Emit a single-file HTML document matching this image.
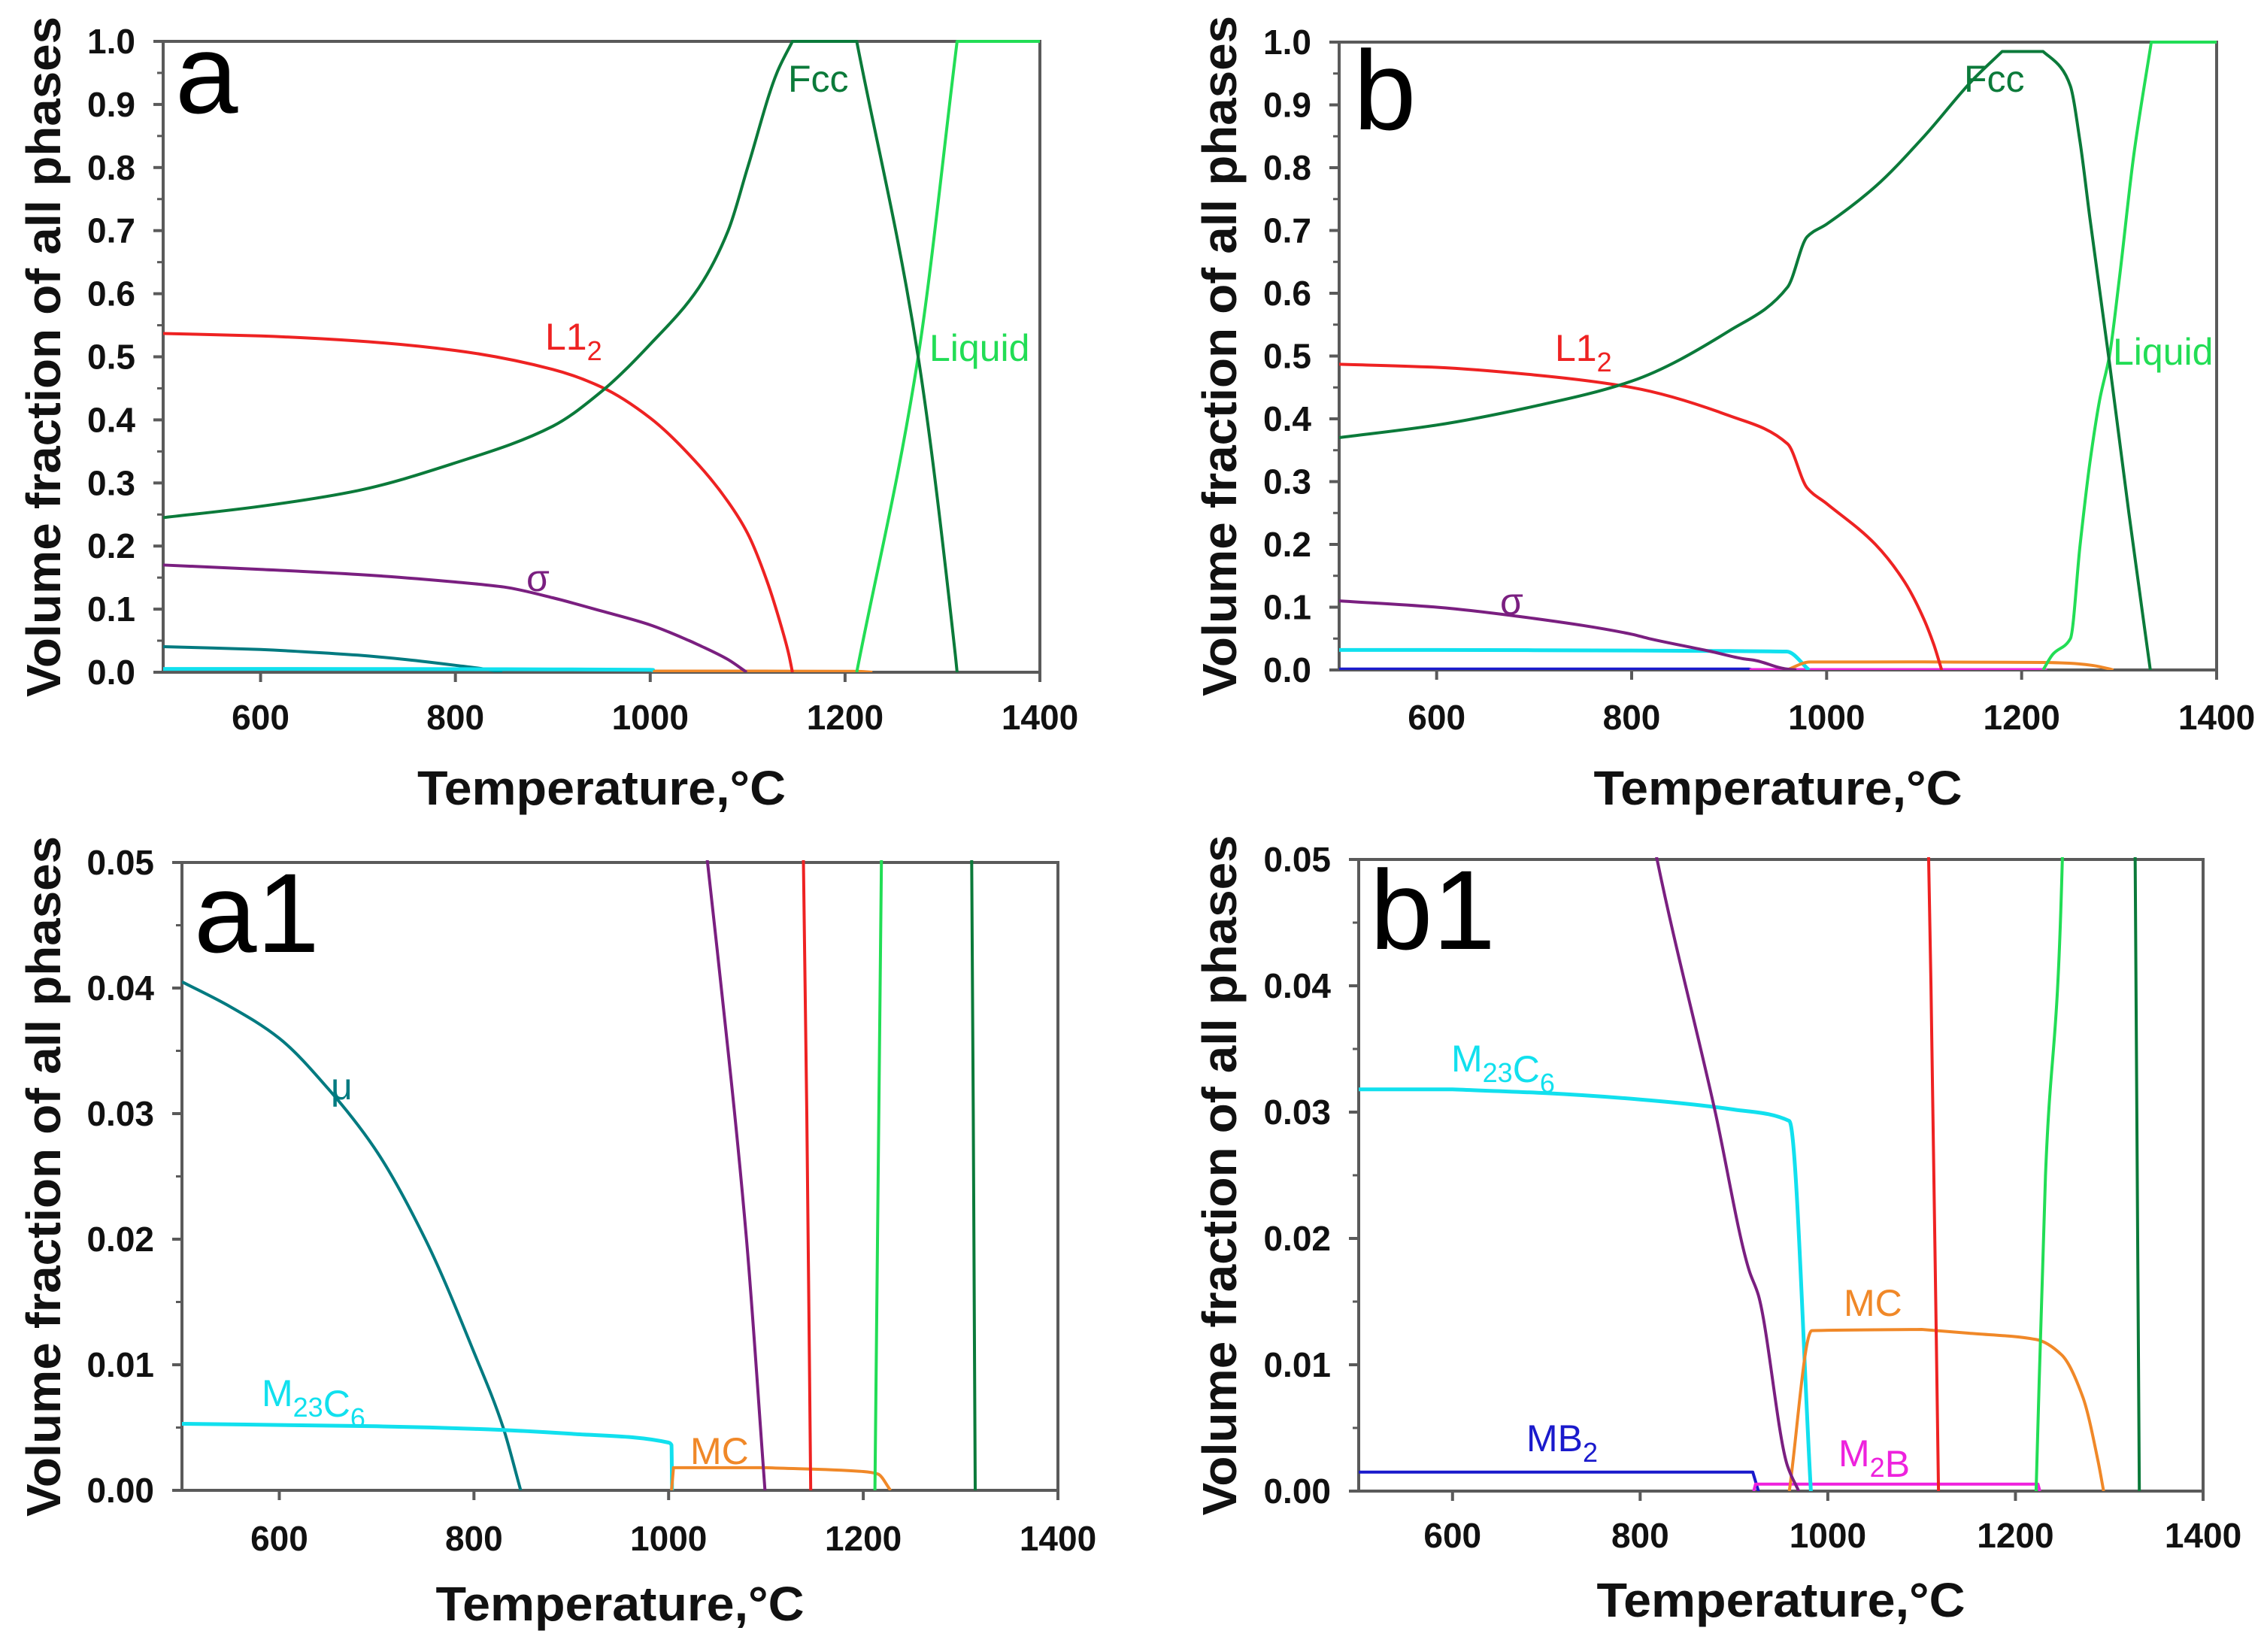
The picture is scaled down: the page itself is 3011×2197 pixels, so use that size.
<!DOCTYPE html>
<html><head><meta charset="utf-8"><style>
html,body{margin:0;padding:0;background:#fff}
svg{display:block}
text{font-family:"Liberation Sans",Arial,sans-serif}
.tk{font-family:"Liberation Sans Narrow","Liberation Sans",sans-serif;font-weight:bold;font-size:46px;fill:#111}
.ttl{font-weight:bold;font-size:64px;fill:#111}
.lbl{font-size:50px}
.pl{font-size:150px;fill:#000}
</style></head><body>
<svg id="fig" width="3011" height="2197" viewBox="0 0 3011 2197" xmlns="http://www.w3.org/2000/svg"></svg>
<script>
// ---- Panel a data ----
const aFccT = [500,600,700,800,900,950,1000,1050,1080,1100,1130,1146,1212,1275,1313,1315];
const aFccV = [0.245,0.263,0.288,0.332,0.39,0.445,0.52,0.61,0.7,0.8,0.95,1.0,1.0,0.5,0.03,0.0];
const aL12T = [500,600,700,800,900,950,1000,1050,1080,1100,1120,1135,1142,1146];
const aL12V = [0.537,0.533,0.525,0.51,0.48,0.452,0.403,0.328,0.27,0.22,0.144,0.07,0.03,0];
const aLiqT = [1212,1275,1315,1400];
const aLiqV = [0,0.5,1.0,1.0];
const aSigT = [500,600,700,800,850,900,950,1000,1040,1050,1080,1099];
const aSigV = [0.17,0.163,0.155,0.143,0.135,0.118,0.097,0.075,0.05,0.043,0.02,0];
const aMuT = [500,550,600,650,700,750,800,830,848];
const aMuV = [0.0405,0.0385,0.036,0.032,0.027,0.020,0.011,0.005,0];
const aM23T = [500,700,800,900,1000,1003,1003.5];
const aM23V = [0.0053,0.0051,0.0049,0.0045,0.0038,0.0036,0];
const aMCT = [1003,1005,1100,1200,1215,1228];
const aMCV = [0,0.0018,0.0018,0.0015,0.0013,0];
// ---- Panel b data ----
const bFccT = [500,600,700,800,900,960,980,1000,1050,1100,1150,1180,1222,1240,1250,1260,1270,1290,1310,1332];
const bFccV = [0.37,0.39,0.42,0.46,0.54,0.61,0.69,0.71,0.77,0.85,0.94,0.985,0.985,0.96,0.93,0.84,0.72,0.49,0.25,0];
const bL12T = [500,600,700,800,900,960,980,1000,1050,1080,1100,1110,1118];
const bL12V = [0.487,0.482,0.47,0.45,0.405,0.36,0.29,0.265,0.2,0.14,0.08,0.04,0];
const bLiqT = [1222,1232,1250,1260,1270,1280,1290,1300,1315,1333,1400];
const bLiqV = [0,0.025,0.05,0.2,0.33,0.43,0.5,0.62,0.82,1.0,1.0];
const bSigT = [500,600,700,800,818,880,916,926,957,969];
const bSigV = [0.11,0.1,0.082,0.057,0.05,0.03,0.0175,0.0155,0.002,0];
const bM23T = [500,600,700,800,900,959,982];
const bM23V = [0.0318,0.0318,0.0315,0.031,0.0302,0.0293,0];
const bMCT = [959,983,1100,1150,1222,1249,1272,1288,1294];
const bMCV = [0,0.0127,0.0128,0.0125,0.012,0.0108,0.0074,0.0024,0];
const bM2BT = [921,923,1224,1226];
const bM2BV = [0,0.00055,0.00055,0];
const bMB2T = [500,920,926];
const bMB2V = [0.0015,0.0015,0];

const yTicksMain = [0,0.1,0.2,0.3,0.4,0.5,0.6,0.7,0.8,0.9,1.0];
const yTickLabMain = ["0.0","0.1","0.2","0.3","0.4","0.5","0.6","0.7","0.8","0.9","1.0"];
const yTicksZoom = [0,0.01,0.02,0.03,0.04,0.05];
const yTickLabZoom = ["0.00","0.01","0.02","0.03","0.04","0.05"];
const xTicks = [600,800,1000,1200,1400];

const C = {fcc:"#0b7a3a", l12:"#ee2222", liq:"#22dd55", sig:"#7a1f80", mu:"#007a80", m23:"#11e0ee", mc:"#f08828", m2b:"#ee22dd", mb2:"#1a1acc"};
const svg = document.getElementById('fig');
const NS = "http://www.w3.org/2000/svg";
function mk(tag, attrs, parent){const e=document.createElementNS(NS,tag);for(const k in attrs)e.setAttribute(k,attrs[k]);(parent||svg).appendChild(e);return e;}

// monotone cubic path with sharp corners where slope changes sign
function monoPath(px, py){
  const n=px.length; if(n<3){let d='';for(let i=0;i<n;i++)d+=(i?'L':'M')+px[i].toFixed(1)+','+py[i].toFixed(1);return d;}
  const dx=[],s=[];
  for(let i=0;i<n-1;i++){dx.push(px[i+1]-px[i]);s.push(dx[i]===0?0:(py[i+1]-py[i])/dx[i]);}
  const mi=[s[0]], mo=[s[0]];
  for(let i=1;i<n-1;i++){
    if(s[i-1]*s[i]<=0){ mi.push(s[i-1]); mo.push(s[i]); }
    else { const w1=2*dx[i]+dx[i-1], w2=dx[i]+2*dx[i-1]; const m=(w1+w2)/(w1/s[i-1]+w2/s[i]); mi.push(m); mo.push(m); }
  }
  mi.push(s[n-2]); mo.push(s[n-2]);
  let d='M'+px[0].toFixed(1)+','+py[0].toFixed(1);
  for(let i=0;i<n-1;i++){
    if(dx[i]<0.5){d+='L'+px[i+1].toFixed(1)+','+py[i+1].toFixed(1);continue;}
    const h=dx[i]/3;
    d+='C'+(px[i]+h).toFixed(1)+','+(py[i]+mo[i]*h).toFixed(1)+' '+(px[i+1]-h).toFixed(1)+','+(py[i+1]-mi[i+1]*h).toFixed(1)+' '+px[i+1].toFixed(1)+','+py[i+1].toFixed(1);
  }
  return d;
}

function panel(id, box, ymax, yt, ytl, letter, letterPos, series, labels, ytitleX, xtitleY, xtickY){
  const g = mk('g',{});
  
  
  const X = t => box.x0 + (t-500)/900*(box.x1-box.x0);
  const Y = v => box.y1 - v/ymax*(box.y1-box.y0);
  const cp = mk('clipPath',{id:'cp'+id},g);
  mk('rect',{x:box.x0,y:box.y0-3,width:box.x1-box.x0+3,height:box.y1-box.y0+3},cp);
  const fr = mk('rect',{x:box.x0,y:box.y0,width:box.x1-box.x0,height:box.y1-box.y0,fill:'none',stroke:'#5a5a5a','stroke-width':4},g);
  
  
  const sg = mk('g',{'clip-path':'url(#cp'+id+')'},g);
  series.forEach(s=>{
    const d = monoPath(s.t.map(X), s.v.map(Y));
    const p = mk('path',{d:d,fill:'none',stroke:s.c,'stroke-width':s.w||4,'stroke-linejoin':'round'},sg);
    
    
  });
  yt.forEach((v,i)=>{
    mk('line',{x1:box.x0-13,x2:box.x0,y1:Y(v),y2:Y(v),stroke:'#5a5a5a','stroke-width':4},g);
    if(i<yt.length-1){const m=(v+yt[i+1])/2;mk('line',{x1:box.x0-8,x2:box.x0,y1:Y(m),y2:Y(m),stroke:'#5a5a5a','stroke-width':3},g);}
    const tx = mk('text',{x:box.x0-37,y:Y(v)+16,'text-anchor':'end',class:'tk'},g);
    tx.textContent = ytl[i];
    
    
  });
  xTicks.forEach(t=>{
    mk('line',{x1:X(t),x2:X(t),y1:box.y1,y2:box.y1+13,stroke:'#5a5a5a','stroke-width':4},g);
    const tx = mk('text',{x:X(t),y:xtickY,'text-anchor':'middle',class:'tk'},g);
    tx.textContent = t;
    
    
  });
  const cy=(box.y0+box.y1)/2;
  const yt1 = mk('text',{x:ytitleX,y:cy,transform:'rotate(-90 '+ytitleX+' '+cy+')','text-anchor':'middle',class:'ttl',textLength:905,lengthAdjust:'spacingAndGlyphs',dy:'22'},g);
  yt1.textContent='Volume fraction of all phases';
  
  
  const xt = mk('text',{x:(box.x0+box.x1)/2,y:xtitleY,'text-anchor':'middle',class:'ttl',textLength:490,lengthAdjust:'spacingAndGlyphs'},g);
  xt.textContent='Temperature,°C';
  
  
  const pl = mk('text',{x:letterPos[0],y:letterPos[1],class:'pl'},g);
  pl.textContent=letter;
  
  
  labels.forEach(l=>{
    const tx = mk('text',{x:l.x,y:l.y,fill:l.c,class:'lbl'},g);
    tx.innerHTML = l.h;
    
    
  });
}
const sub = s => '<tspan dy="14" font-size="36">'+s+'</tspan><tspan dy="-14"></tspan>';

const aSeries = [
 {n:'mu',t:aMuT,v:aMuV,c:C.mu},{n:'m23c6',t:aM23T,v:aM23V,c:C.m23,w:5},{n:'mc',t:aMCT,v:aMCV,c:C.mc},
 {n:'sigma',t:aSigT,v:aSigV,c:C.sig},{n:'l12',t:aL12T,v:aL12V,c:C.l12},{n:'liquid',t:aLiqT,v:aLiqV,c:C.liq},{n:'fcc',t:aFccT,v:aFccV,c:C.fcc}];
const bSeries = [
 {n:'mb2',t:bMB2T,v:bMB2V,c:C.mb2},{n:'m2b',t:bM2BT,v:bM2BV,c:C.m2b},{n:'m23c6',t:bM23T,v:bM23V,c:C.m23,w:5},{n:'mc',t:bMCT,v:bMCV,c:C.mc},
 {n:'sigma',t:bSigT,v:bSigV,c:C.sig},{n:'l12',t:bL12T,v:bL12V,c:C.l12},{n:'liquid',t:bLiqT,v:bLiqV,c:C.liq},{n:'fcc',t:bFccT,v:bFccV,c:C.fcc}];

panel('a',{x0:217,x1:1383,y0:55,y1:894},1.0,yTicksMain,yTickLabMain,'a',[233,150],aSeries,[
 {n:'fcc',x:1048,y:122,c:C.fcc,h:'Fcc'},{n:'l12',x:725,y:465,c:C.l12,h:'L1'+sub('2')},
 {n:'liquid',x:1236,y:480,c:C.liq,h:'Liquid'},{n:'sigma',x:700,y:786,c:C.sig,h:'σ'}],58,1070,970);
panel('b',{x0:1781,x1:2948,y0:56,y1:891},1.0,yTicksMain,yTickLabMain,'b',[1800,172],bSeries,[
 {n:'fcc',x:2612,y:122,c:C.fcc,h:'Fcc'},{n:'l12',x:2068,y:480,c:C.l12,h:'L1'+sub('2')},
 {n:'liquid',x:2810,y:485,c:C.liq,h:'Liquid'},{n:'sigma',x:1995,y:817,c:C.sig,h:'σ'}],1622,1070,970);
panel('a1',{x0:242,x1:1407,y0:1147,y1:1982},0.05,yTicksZoom,yTickLabZoom,'a1',[258,1266],aSeries,[
 {n:'mu',x:440,y:1462,c:C.mu,h:'μ'},{n:'m23c6',x:348,y:1870,c:C.m23,h:'M'+sub('23')+'C'+sub('6')},
 {n:'mc',x:918,y:1947,c:C.mc,h:'MC'}],58,2155,2062);
panel('b1',{x0:1807,x1:2930,y0:1143,y1:1983},0.05,yTicksZoom,yTickLabZoom,'b1',[1822,1262],bSeries,[
 {n:'m23c6',x:1930,y:1425,c:C.m23,h:'M'+sub('23')+'C'+sub('6')},{n:'mc',x:2452,y:1750,c:C.mc,h:'MC'},
 {n:'mb2',x:2030,y:1930,c:C.mb2,h:'MB'+sub('2')},{n:'m2b',x:2445,y:1950,c:C.m2b,h:'M'+sub('2')+'B'}],1622,2150,2058);
</script>
</body></html>
